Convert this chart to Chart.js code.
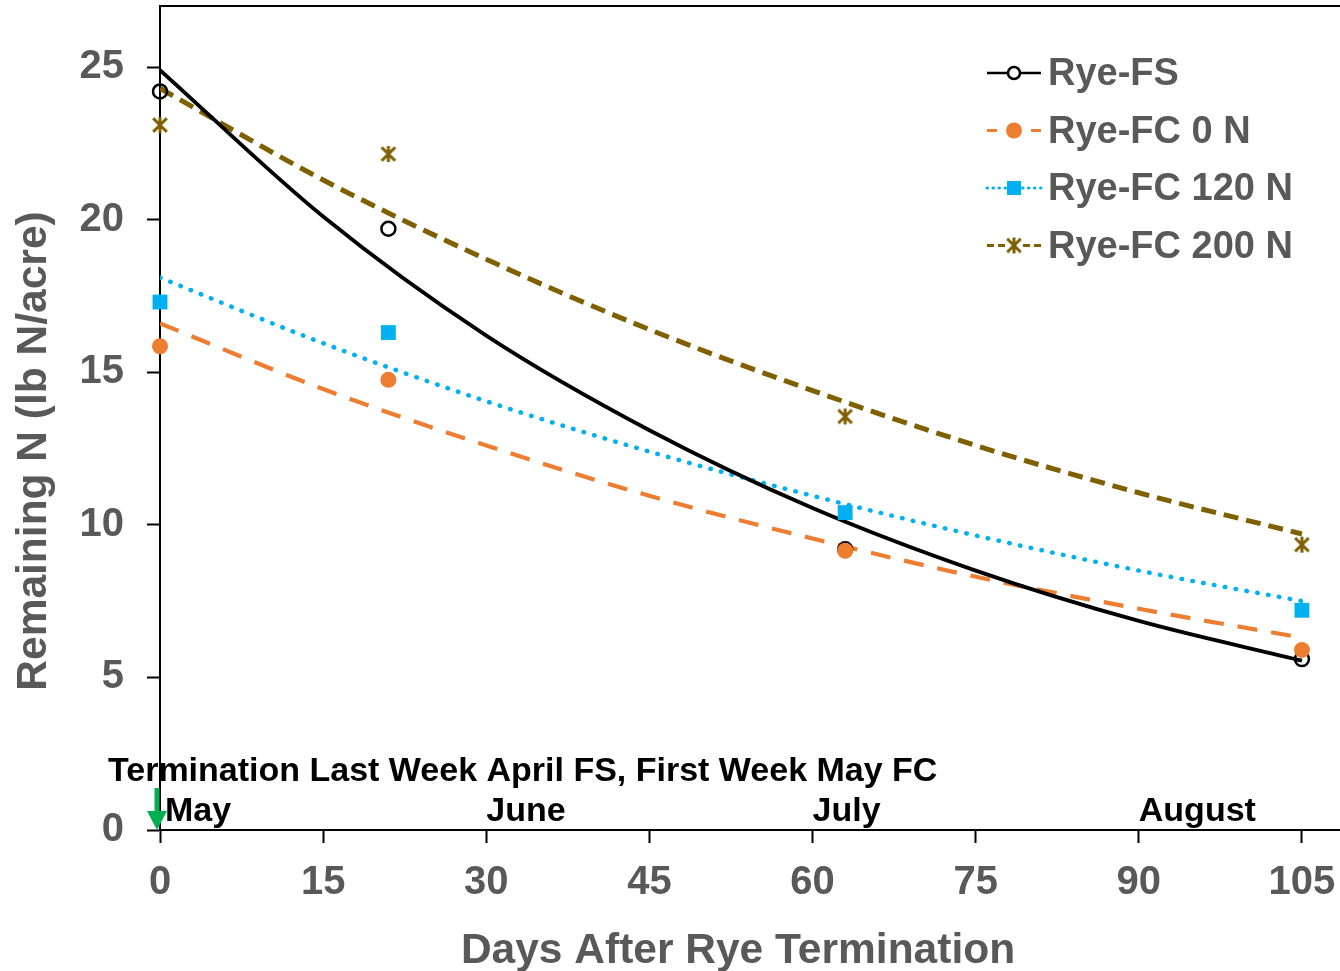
<!DOCTYPE html>
<html>
<head>
<meta charset="utf-8">
<script src="https://cdn.jsdelivr.net/npm/chart.js@4.4.1/dist/chart.umd.min.js"></script>
<style>
  html, body { margin: 0; padding: 0; background: #fff; }
</style>
</head>
<body>
<canvas id="myChart" width="1340" height="971"></canvas>
<script>
// measured points
const days = [0, 21, 63, 105];
const ryeFS = [24.2, 19.7, 9.2, 5.6];
const ryeFC0 = [15.85, 14.75, 9.15, 5.9];
const ryeFC120 = [17.3, 16.3, 10.4, 7.2];
const ryeFC200 = [23.1, 22.15, 13.55, 9.35];

// trend lines, every 15 days
const trendDays = [0, 15, 30, 45, 60, 75, 90, 105];
const trendFS = [24.9, 20.1, 16.2, 13.1, 10.55, 8.5, 6.85, 5.55];
const trendFC0 = [16.6, 14.45, 12.6, 10.95, 9.55, 8.3, 7.25, 6.3];
const trendFC120 = [18.1, 15.95, 14.05, 12.4, 10.95, 9.65, 8.5, 7.5];
const trendFC200 = [24.3, 21.3, 18.7, 16.4, 14.4, 12.6, 11.05, 9.7];

const xTicks = [0, 15, 30, 45, 60, 75, 90, 105];
const yTicks = [0, 5, 10, 15, 20, 25];
const months = ['May', 'June', 'July', 'August'];
const monthDays = [0, 30, 60, 90];
const noteText = 'Termination Last Week April FS, First Week May FC';

const FONT = "'Liberation Sans', Arial, sans-serif";
const GRAY = '#595959';
const ORANGE = '#ED7D31';
const BLUE = '#00B0F0';
const OLIVE = '#7F6000';

function pts(xs, ys) {
  return xs.map((x, i) => ({x: x, y: ys[i]}));
}

// excel-like star: an X with a vertical bar through it
function starMarker(size, color) {
  const c = document.createElement('canvas');
  c.width = c.height = size;
  const g = c.getContext('2d');
  const m = size / 2, r = size / 2 - 2;
  g.strokeStyle = color;
  g.lineWidth = 3;
  g.beginPath();
  g.moveTo(m - r * 0.85, m - r * 0.85); g.lineTo(m + r * 0.85, m + r * 0.85);
  g.moveTo(m + r * 0.85, m - r * 0.85); g.lineTo(m - r * 0.85, m + r * 0.85);
  g.moveTo(m, m - r); g.lineTo(m, m + r);
  g.stroke();
  return c;
}
const star = starMarker(20, OLIVE);

// legend drawn by hand: line + marker + label
const legendRows = [
  {label: 'Rye-FS', color: '#000', dash: [], width: 2.5, marker: 'ocircle'},
  {label: 'Rye-FC 0 N', color: ORANGE, dash: [10, 30], width: 3, marker: 'circle'},
  {label: 'Rye-FC 120 N', color: BLUE, dash: [0.5, 5.5], width: 3, marker: 'square', cap: 'round'},
  {label: 'Rye-FC 200 N', color: OLIVE, dash: [7, 4], width: 3, marker: 'star'}
];

const extras = {
  id: 'extras',
  afterDraw(chart) {
    const ctx = chart.ctx;
    const xs = chart.scales.x, ys = chart.scales.y;
    const area = chart.chartArea;
    ctx.save();

    // top frame line
    ctx.strokeStyle = '#000';
    ctx.lineWidth = 2;
    ctx.beginPath();
    ctx.moveTo(area.left, area.top);
    ctx.lineTo(area.right, area.top);
    ctx.stroke();

    // axis titles
    ctx.fillStyle = GRAY;
    ctx.font = 'bold 42.5px ' + FONT;
    ctx.textAlign = 'center';
    ctx.textBaseline = 'alphabetic';
    ctx.fillText('Days After Rye Termination', 738, 963);
    ctx.save();
    ctx.translate(46, 451);
    ctx.rotate(-Math.PI / 2);
    ctx.fillText('Remaining N (lb N/acre)', 0, 0);
    ctx.restore();

    // termination note + months
    ctx.fillStyle = '#000';
    ctx.font = 'bold 34px ' + FONT;
    ctx.textAlign = 'left';
    const x0 = xs.getPixelForValue(0);
    ctx.fillText(noteText, x0 - 52, 781);
    months.forEach((m, i) => {
      const px = xs.getPixelForValue(monthDays[i]) + (i === 0 ? 5 : 0);
      ctx.fillText(m, px, 821);
    });

    // green arrow at termination
    const ay = ys.getPixelForValue(0);
    ctx.fillStyle = '#00B050';
    ctx.fillRect(x0 - 5.5, ay - 42, 5, 24);
    ctx.beginPath();
    ctx.moveTo(x0 - 13, ay - 19);
    ctx.lineTo(x0 + 7, ay - 19);
    ctx.lineTo(x0 - 3, ay);
    ctx.closePath();
    ctx.fill();

    // legend
    const lx1 = 987, lx2 = 1041, mx = 1014;
    legendRows.forEach((r, i) => {
      const y = 73 + i * 57.5;
      ctx.strokeStyle = r.color;
      ctx.lineWidth = r.width;
      ctx.lineCap = r.cap || 'butt';
      ctx.setLineDash(r.dash);
      ctx.beginPath();
      ctx.moveTo(lx1, y); ctx.lineTo(mx - 6, y);
      ctx.stroke();
      ctx.beginPath();
      ctx.moveTo(lx2, y); ctx.lineTo(mx + 6, y);
      ctx.stroke();
      ctx.setLineDash([]);
      if (r.marker === 'ocircle') {
        ctx.lineWidth = 2.5;
        ctx.beginPath(); ctx.arc(mx, y, 6, 0, Math.PI * 2); ctx.stroke();
      } else if (r.marker === 'circle') {
        ctx.fillStyle = r.color;
        ctx.beginPath(); ctx.arc(mx, y, 8, 0, Math.PI * 2); ctx.fill();
      } else if (r.marker === 'square') {
        ctx.fillStyle = r.color;
        ctx.fillRect(mx - 7, y - 7, 14, 14);
      } else {
        ctx.drawImage(star, mx - 10, y - 10);
      }
      ctx.fillStyle = GRAY;
      ctx.font = 'bold 38px ' + FONT;
      ctx.textAlign = 'left';
      ctx.textBaseline = 'middle';
      ctx.fillText(r.label, 1048, y + 2);
    });
    ctx.restore();
  }
};

const trendBase = {type: 'line', pointRadius: 0, fill: false, cubicInterpolationMode: 'monotone', order: 2};

function noPad(s) {
  s.paddingTop = 0; s.paddingBottom = 0; s.paddingLeft = 0; s.paddingRight = 0;
}

new Chart(document.getElementById('myChart').getContext('2d'), {
  type: 'scatter',
  data: {
    datasets: [
      {label: 'Rye-FS', data: pts(days, ryeFS), pointStyle: 'circle', pointRadius: 7,
       borderColor: '#000', backgroundColor: 'rgba(0,0,0,0)', borderWidth: 2.5, clip: false, order: 1},
      {label: 'Rye-FC 0 N', data: pts(days, ryeFC0), pointStyle: 'circle', pointRadius: 8,
       borderColor: ORANGE, backgroundColor: ORANGE, borderWidth: 0, clip: false, order: 0},
      {label: 'Rye-FC 120 N', data: pts(days, ryeFC120), pointStyle: 'rect', pointRadius: 10.5,
       borderColor: BLUE, backgroundColor: BLUE, borderWidth: 0, clip: false, order: 0},
      {label: 'Rye-FC 200 N', data: pts(days, ryeFC200), pointStyle: star, pointRadius: 10,
       borderColor: OLIVE, backgroundColor: OLIVE, clip: false, order: 0},
      Object.assign({}, trendBase, {label: 'trend FS', data: pts(trendDays, trendFS),
       borderColor: '#000', borderWidth: 3.8}),
      Object.assign({}, trendBase, {label: 'trend 0 N', data: pts(trendDays, trendFC0),
       borderColor: ORANGE, borderWidth: 4.2, borderDash: [20, 14]}),
      Object.assign({}, trendBase, {label: 'trend 120 N', data: pts(trendDays, trendFC120),
       borderColor: BLUE, borderWidth: 4.5, borderDash: [0.5, 10.5], borderCapStyle: 'round'}),
      Object.assign({}, trendBase, {label: 'trend 200 N', data: pts(trendDays, trendFC200),
       borderColor: OLIVE, borderWidth: 5, borderDash: [15, 8]})
    ]
  },
  options: {
    responsive: false,
    animation: false,
    layout: {autoPadding: false, padding: {top: 6, right: 0, left: 0, bottom: 0}},
    plugins: {legend: {display: false}, tooltip: {enabled: false}},
    scales: {
      x: {
        type: 'linear', min: 0, max: 108.5,
        afterBuildTicks: s => { s.ticks = xTicks.map(v => ({value: v})); },
        afterFit: s => { s.height = 141; noPad(s); },
        grid: {drawOnChartArea: false, drawTicks: true, tickLength: 13, tickWidth: 2, tickColor: '#000'},
        border: {display: true, color: '#000', width: 2},
        ticks: {color: GRAY, padding: 16, maxRotation: 0, font: {family: FONT, size: 40, weight: 'bold'}}
      },
      y: {
        min: 0, max: 27,
        afterBuildTicks: s => { s.ticks = yTicks.map(v => ({value: v})); },
        afterFit: s => { s.width = 160; noPad(s); },
        grid: {drawOnChartArea: false, drawTicks: true, tickLength: 13, tickWidth: 2, tickColor: '#000'},
        border: {display: true, color: '#000', width: 2},
        ticks: {color: GRAY, padding: 23, font: {family: FONT, size: 40, weight: 'bold'}}
      }
    }
  },
  plugins: [extras]
});
</script>
</body>
</html>
